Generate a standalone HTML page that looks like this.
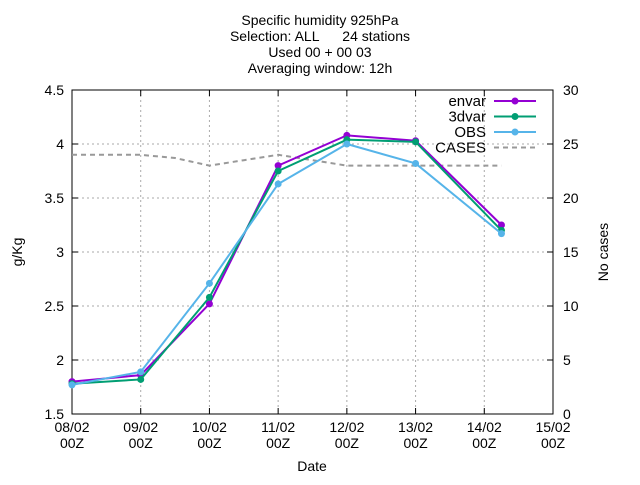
<!DOCTYPE html>
<html><head><meta charset="utf-8"><style>
body{margin:0;background:#fff;font-family:"Liberation Sans",sans-serif;}
svg text{font-family:"Liberation Sans",sans-serif;font-size:14px;fill:#000;white-space:pre;}
</style></head><body>
<svg id="c" width="640" height="480"></svg>
<script>
const dayLabels=["08/02","09/02","10/02","11/02","12/02","13/02","14/02","15/02"];
const leftTicks=[1.5,2,2.5,3,3.5,4,4.5];
const rightTicks=[0,5,10,15,20,25,30];
const pointDays=[0,1,2,3,4,5,6.25];
const envar=[1.80,1.86,2.52,3.80,4.08,4.03,3.25];
const dvar3=[1.78,1.82,2.58,3.75,4.04,4.02,3.20];
const obs=[1.77,1.89,2.71,3.63,4.00,3.82,3.17];
const caseDays=[0,1,1.5,2,2.5,3,3.5,4,4.5,5,5.5,6,6.25];
const cases=[24,24,23.7,23,23.5,24,23.5,23,23,23,23,23,23];
const NS="http://www.w3.org/2000/svg";
const svg=document.getElementById('c');
const L=72,R=553,T=90,B=414;
const x=d=>L+d*(R-L)/7;
const y=v=>B-(v-1.5)*(B-T)/3;
const y2=v=>B-v*(B-T)/30;
function mk(t,a,p){const e=document.createElementNS(NS,t);for(const k in a)e.setAttribute(k,a[k]);(p||svg).appendChild(e);return e;}
const grid=mk('g',{});


for(let i=1;i<7;i++)mk('line',{x1:x(i),x2:x(i),y1:T,y2:B,stroke:'#aaa','stroke-dasharray':'2,3'},grid);
leftTicks.slice(1,-1).forEach(v=>mk('line',{x1:L,x2:R,y1:y(v),y2:y(v),stroke:'#aaa','stroke-dasharray':'2,3'},grid));
const fr=mk('rect',{x:L,y:T,width:R-L,height:B-T,fill:'none',stroke:'#000'});


leftTicks.forEach(v=>{mk('line',{x1:L,x2:L+6,y1:y(v),y2:y(v),stroke:'#000'});mk('line',{x1:R,x2:R-6,y1:y(v),y2:y(v),stroke:'#000'});
const t=mk('text',{x:L-8,y:y(v)+5,'text-anchor':'end'});t.textContent=v;

});
rightTicks.forEach(v=>{const t=mk('text',{x:R+10,y:y2(v)+5});t.textContent=v;

});
dayLabels.forEach((d,i)=>{mk('line',{x1:x(i),x2:x(i),y1:B,y2:B-6,stroke:'#000'});mk('line',{x1:x(i),x2:x(i),y1:T,y2:T+6,stroke:'#000'});
const t=mk('text',{x:x(i),y:B+18,'text-anchor':'middle'});t.textContent=d;


const t2=mk('text',{x:x(i),y:B+34,'text-anchor':'middle'});t2.textContent='00Z';

});
["Specific humidity 925hPa","Selection: ALL      24 stations","Used 00 + 00 03","Averaging window: 12h"].forEach((s,i)=>{const t=mk('text',{x:320,y:25+i*16,'text-anchor':'middle'});t.textContent=s;

});
let t=mk('text',{x:312,y:471,'text-anchor':'middle'});t.textContent='Date';


t=mk('text',{x:22,y:252,'text-anchor':'middle',transform:'rotate(-90 22 252)'});t.textContent='g/Kg';


t=mk('text',{x:608,y:252,'text-anchor':'middle',transform:'rotate(-90 608 252)'});t.textContent='No cases';


const cp=mk('polyline',{points:caseDays.map((d,i)=>x(d)+','+y2(cases[i])).join(' '),fill:'none',stroke:'#999','stroke-width':2,'stroke-dasharray':'5,4'});


function series(vals,col,name){const g=mk('g',{});


mk('polyline',{points:pointDays.map((d,i)=>x(d)+','+y(vals[i])).join(' '),fill:'none',stroke:col,'stroke-width':2},g);
pointDays.forEach((d,i)=>{const m=mk('circle',{cx:x(d),cy:y(vals[i]),r:3.5,fill:col},g);

});}
series(envar,'#9400d3','envar');series(dvar3,'#009e73','3dvar');series(obs,'#56b4e9','obs');
[['envar','#9400d3'],['3dvar','#009e73'],['OBS','#56b4e9'],['CASES','#999']].forEach((e,i)=>{const g=mk('g',{});


const yy=101+i*15.5;const tt=mk('text',{x:486,y:yy+5,'text-anchor':'end',style:'font-size:15px'},g);tt.textContent=e[0];
if(i<3){mk('line',{x1:494,x2:536,y1:yy,y2:yy,stroke:e[1],'stroke-width':2},g);mk('circle',{cx:515,cy:yy,r:3.5,fill:e[1]},g);}
else mk('line',{x1:494,x2:536,y1:yy,y2:yy,stroke:e[1],'stroke-width':2,'stroke-dasharray':'5,4'},g);});
</script></body></html>
